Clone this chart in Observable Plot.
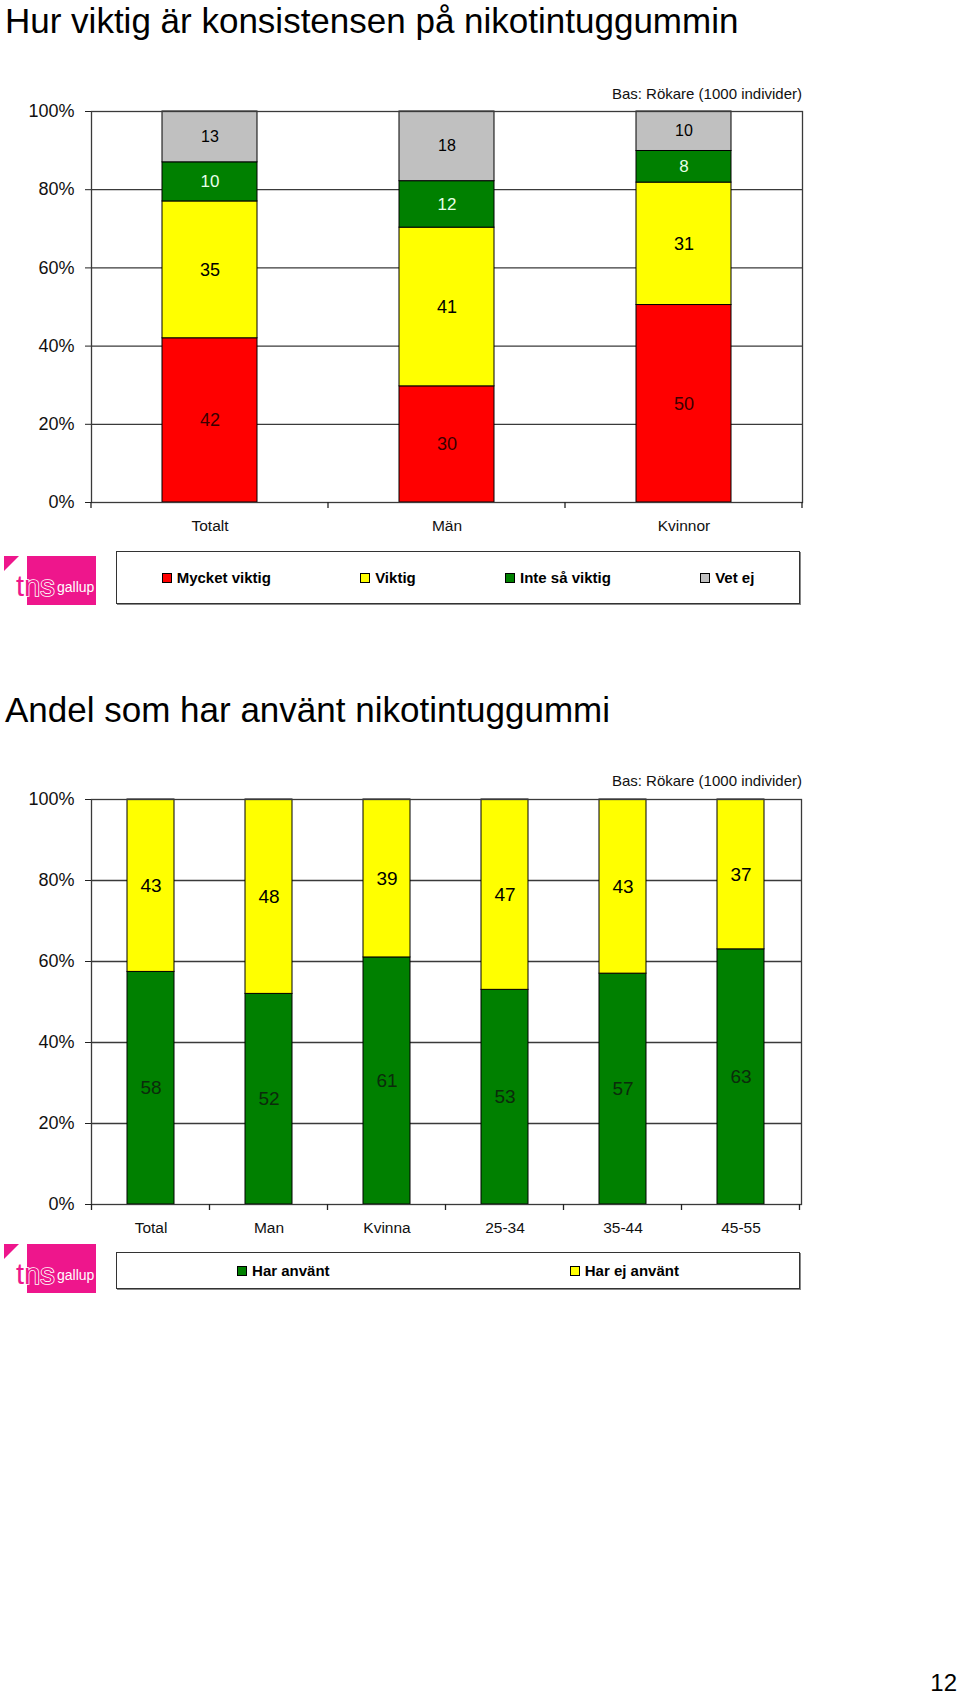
<!DOCTYPE html>
<html>
<head>
<meta charset="utf-8">
<script src="https://cdn.jsdelivr.net/npm/d3@7"></script>
<script src="https://cdn.jsdelivr.net/npm/@observablehq/plot@0.6"></script>
<style>
  body { margin: 0; background: #fff; font-family: "Liberation Sans", Arial, Helvetica, sans-serif; color: #111; }
  #page { position: relative; width: 960px; height: 1699px; overflow: hidden; background: #fff; }
  .abs { position: absolute; }
  .title { left: 5px; font-size: 35px; line-height: 35px; white-space: nowrap; color: #000; }
  .bas { right: 158px; font-size: 15px; line-height: 15px; white-space: nowrap; color: #111; }
  .legend { position: absolute; left: 116px; width: 684px; box-sizing: border-box; border: 1.5px solid #333;
            box-shadow: 1px 1px 0 #888; display: flex; justify-content: space-around; align-items: center;
            font-weight: bold; font-size: 15px; color: #000; background: #fff; }
  .item { display: flex; align-items: center; white-space: nowrap; }
  .sw { width: 8px; height: 8px; border: 1px solid #000; margin-right: 5px; }
  .pnum { right: 3px; font-size: 24px; line-height: 24px; color: #000; }
</style>
</head>
<body>
<div id="page"></div>
<script>
// ---------- data ----------
const yTicks = [0, 0.2, 0.4, 0.6, 0.8, 1];
const gridTicks = [0.2, 0.4, 0.6, 0.8];

const title1 = "Hur viktig är konsistensen på nikotintuggummin";
const categories1 = ["Totalt", "Män", "Kvinnor"];
const series1 = ["Mycket viktig", "Viktig", "Inte så viktig", "Vet ej"];
const mycketViktig = [42, 30, 50];
const viktig = [35, 41, 31];
const inteSaViktig = [10, 12, 8];
const vetEj = [13, 18, 10];

const title2 = "Andel som har använt nikotintuggummi";
const categories2 = ["Total", "Man", "Kvinna", "25-34", "35-44", "45-55"];
const series2 = ["Har använt", "Har ej använt"];
const harAnvant = [58, 52, 61, 53, 57, 63];
const harEjAnvant = [43, 48, 39, 47, 43, 37];

const basText = "Bas: Rökare (1000 individer)";
const pageNumber = "12";

// ---------- styles ----------
const barColors1 = ["#ff0000", "#ffff00", "#008000", "#c0c0c0"];
const textColors1 = ["#3a0000", "#000000", "#e8ffe8", "#000000"];
const textSizes1 = [18, 18, 17, 16];
const barColors2 = ["#008000", "#ffff00"];
const textColors2 = ["#0b2b0b", "#000000"];
const font = "'Liberation Sans', Arial, Helvetica, sans-serif";

// ---------- tables ----------
const rows1 = categories1.flatMap((c, i) =>
  [mycketViktig, viktig, inteSaViktig, vetEj].map((vals, s) => ({cat: c, series: series1[s], s, value: vals[i]})));
const rows2 = categories2.flatMap((c, i) =>
  [harAnvant, harEjAnvant].map((vals, s) => ({cat: c, series: series2[s], s, value: vals[i]})));

function boundaryTicks(cats) {
  return (index, scales) => {
    const {x, y} = scales;
    const bw = x.bandwidth();
    const xs = cats.map(c => x(c));
    const step = cats.length > 1 ? xs[1] - xs[0] : bw;
    const gap = (step - bw) / 2;
    const bounds = xs.map(v => v - gap).concat([xs[xs.length - 1] + bw + gap]);
    const y0 = y(0);
    const g = d3.create("svg:g");
    g.selectAll("line").data(bounds).join("line")
      .attr("x1", d => d).attr("x2", d => d)
      .attr("y1", y0).attr("y2", y0 + 6)
      .attr("stroke", "#222").attr("stroke-width", 1.3);
    return g.node();
  };
}

function stackedChart({rows, cats, barColors, textColors, textSizes, width, height, margins}) {
  return Plot.plot({
    width, height,
    marginLeft: margins[0], marginRight: margins[1], marginTop: margins[2], marginBottom: margins[3],
    style: {fontFamily: font, fontSize: "16px", color: "#111", background: "transparent", overflow: "visible"},
    x: {domain: cats, paddingInner: 0.6, paddingOuter: 0.3, label: null},
    y: {domain: [0, 1], label: null},
    color: {type: "identity"},
    marks: [
      Plot.ruleY(gridTicks, {stroke: "#3a3a3a", strokeWidth: 1.3}),
      Plot.barY(rows, Plot.stackY({
        x: "cat", y: "value", z: "series", offset: "normalize",
        fill: d => barColors[d.s], stroke: "#000", strokeWidth: 1
      })),
      Plot.text(rows, Plot.stackY({
        x: "cat", y: "value", z: "series", offset: "normalize",
        text: d => String(d.value), fill: d => textColors[d.s], fontSize: d => textSizes[d.s]
      })),
      Plot.frame({stroke: "#3a3a3a", strokeWidth: 1.3}),
      Plot.axisY({ticks: yTicks, tickFormat: d3.format(".0%"), tickSize: 6, tickPadding: 11, fontSize: 18,
                  stroke: "#222", fill: "#111", label: null}),
      Plot.axisX({tickSize: 0, tickPadding: 17.5, fontSize: 15.5, fill: "#111", label: null}),
      boundaryTicks(cats)
    ]
  });
}

// ---------- page ----------
const page = document.getElementById("page");
function addDiv(cls, text, top) {
  const d = document.createElement("div");
  d.className = "abs " + cls;
  d.textContent = text;
  d.style.top = top + "px";
  page.appendChild(d);
  return d;
}
function addLogo(top) {
  const wrap = document.createElement("div");
  wrap.className = "abs";
  wrap.style.left = "4px";
  wrap.style.top = top + "px";
  wrap.innerHTML = `<svg width="96" height="52" viewBox="0 0 96 52">
    <polygon points="0,0 15,0 0,15" fill="#ee168c"/>
    <rect x="23" y="0" width="69" height="49" fill="#ee168c"/>
    <text x="12" y="40" font-family="${font}" font-size="29" fill="#ee168c" stroke="#fff" stroke-width="1.6" paint-order="stroke">tns</text>
    <text x="53" y="36" font-family="${font}" font-size="14" fill="#fff">gallup</text>
  </svg>`;
  page.appendChild(wrap);
}
function addLegend(top, height, names, colors) {
  const box = document.createElement("div");
  box.className = "legend";
  box.style.top = top + "px";
  box.style.height = height + "px";
  names.forEach((n, i) => {
    const it = document.createElement("div");
    it.className = "item";
    const sw = document.createElement("div");
    sw.className = "sw";
    sw.style.background = colors[i];
    const t = document.createElement("span");
    t.textContent = n;
    it.appendChild(sw); it.appendChild(t);
    box.appendChild(it);
  });
  page.appendChild(box);
}

addDiv("title", title1, 3);
addDiv("bas", basText, 86);
const c1 = stackedChart({rows: rows1, cats: categories1, barColors: barColors1, textColors: textColors1,
  textSizes: textSizes1, width: 820, height: 460, margins: [91, 18, 31, 38]});
const w1 = document.createElement("div");
w1.className = "abs"; w1.style.left = "0px"; w1.style.top = "80px";
w1.appendChild(c1); page.appendChild(w1);
addLogo(556);
addLegend(551, 53, series1, barColors1);

addDiv("title", title2, 692);
addDiv("bas", basText, 772.6);
const c2 = stackedChart({rows: rows2, cats: categories2, barColors: barColors2, textColors: textColors2,
  textSizes: [19, 19], width: 820, height: 475, margins: [91, 19, 34, 36]});
const w2 = document.createElement("div");
w2.className = "abs"; w2.style.left = "0px"; w2.style.top = "765px";
w2.appendChild(c2); page.appendChild(w2);
addLogo(1244);
addLegend(1252, 37, series2, barColors2);

addDiv("pnum", pageNumber, 1671);
</script>
</body>
</html>
